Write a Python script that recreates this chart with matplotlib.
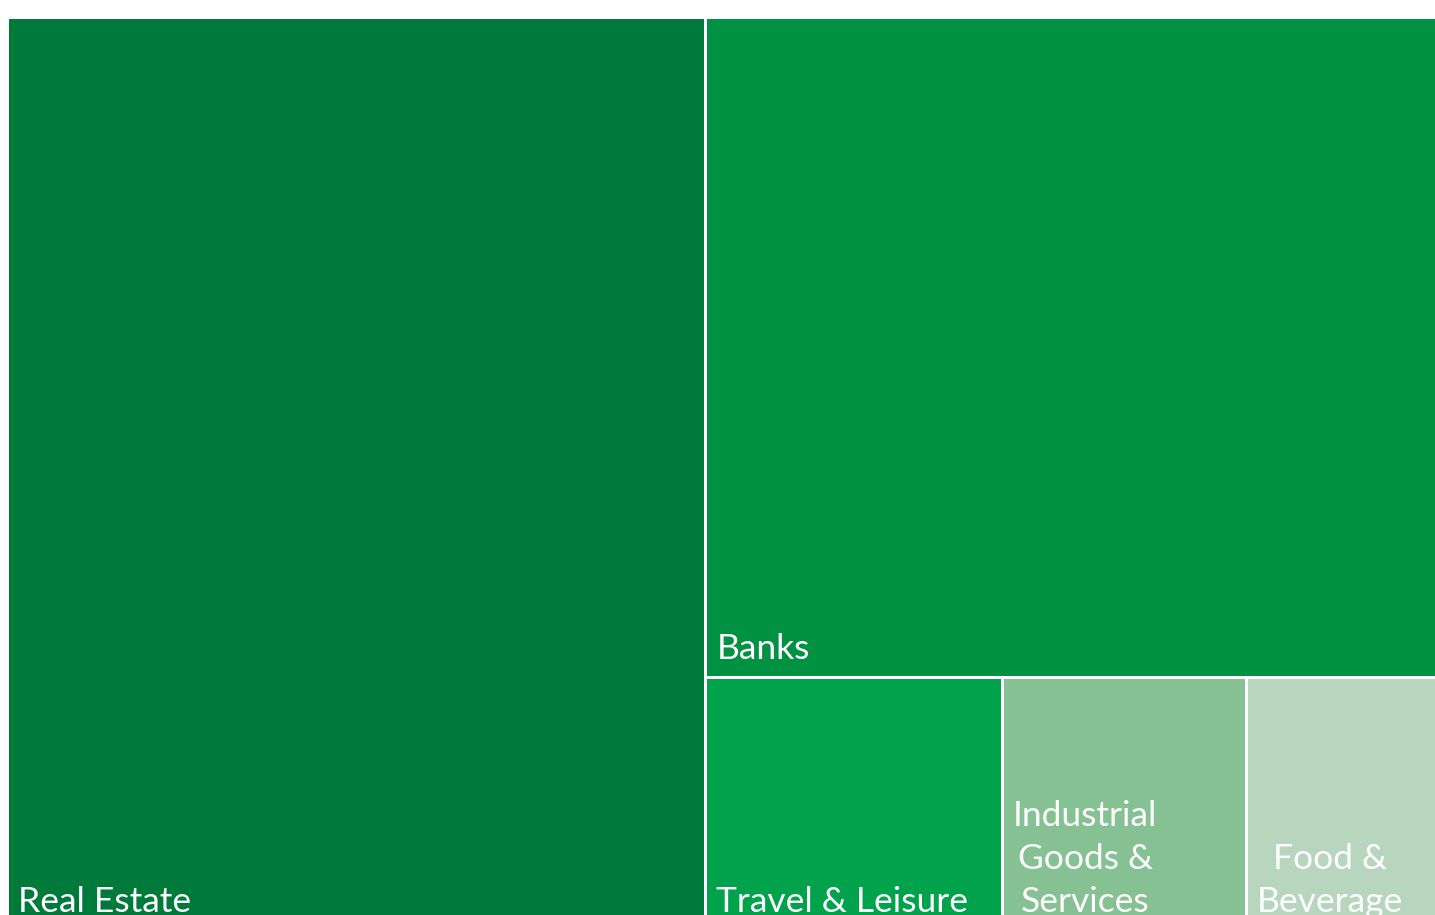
import matplotlib.pyplot as plt
from matplotlib.patches import Rectangle

plt.rcParams['font.family'] = ['Lato', 'DejaVu Sans']

sectors = ['Real Estate', 'Banks', 'Travel & Leisure',
           'Industrial\nGoods &\nServices', 'Food &\nBeverage']
values = [48.8, 37.0, 5.75, 4.73, 3.72]
colors = ['#007a3a', '#009142', '#00a24c', '#86c194', '#b7d6bd']

# treemap frame in pixels (chart is cropped at the bottom)
x0, y0, W, H = 7, 17, 1431, 913
gap = 3
pad_x, pad_base = 10, 18


def layout(vals):
    total = sum(vals)
    rects = []
    # first sector takes a full-height column on the left
    w0 = W * vals[0] / total
    rects.append((x0, y0, w0, H))
    rest = vals[1:]
    rsum = sum(rest)
    rx, rw = x0 + w0, W - w0
    # second sector on top of the right column
    h1 = H * rest[0] / rsum
    rects.append((rx, y0, rw, h1))
    # remaining sectors in a row along the bottom
    row = rest[1:]
    s = sum(row)
    cx = rx
    for v in row:
        w = rw * v / s
        rects.append((cx, y0 + h1, w, H - h1))
        cx += w
    return rects


fig = plt.figure(figsize=(14.35, 9.15), dpi=100)
ax = fig.add_axes([0, 0, 1, 1])
ax.set_xlim(0, 1435)
ax.set_ylim(915, 0)
ax.axis('off')

for (x, y, w, h), name, c in zip(layout(values), sectors, colors):
    ax.add_patch(Rectangle((x, y), w, h, facecolor=c, edgecolor='white',
                           linewidth=gap * 0.72))
    ax.text(x + pad_x + 1, y + h - pad_base, name, color='white',
            fontsize=25.5, ha='left', va='baseline', multialignment='center',
            linespacing=1.43)

fig.savefig('out.png', dpi=100)
